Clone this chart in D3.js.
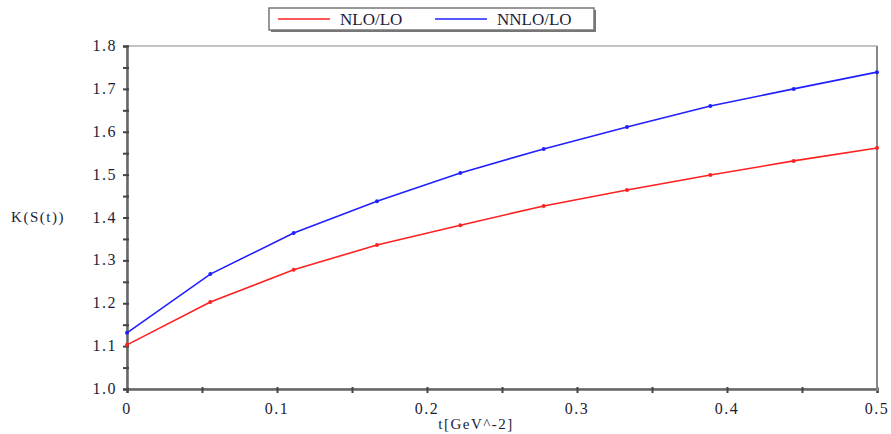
<!DOCTYPE html>
<html>
<head>
<meta charset="utf-8">
<script src="https://cdn.jsdelivr.net/npm/d3@7"></script>
<style>
  body { margin: 0; background: #fff; }
  svg text { font-family: "Liberation Serif", "DejaVu Serif", serif; fill: #1c1c3a; }
</style>
</head>
<body>
<svg id="chart" width="891" height="434"></svg>
<script>
const tValues = [0, 1/18, 2/18, 3/18, 4/18, 5/18, 6/18, 7/18, 8/18, 9/18]
const nloValues = [1.103, 1.203, 1.278, 1.336, 1.382, 1.427, 1.464, 1.499, 1.532, 1.562]
const nnloValues = [1.131, 1.268, 1.364, 1.438, 1.504, 1.560, 1.611, 1.660, 1.700, 1.739]
const seriesNames = ['NLO/LO', 'NNLO/LO']
const seriesColors = ['#ff2020', '#2020ff']
const xTicks = [0, 0.1, 0.2, 0.3, 0.4, 0.5]
const yTicks = [1.0, 1.1, 1.2, 1.3, 1.4, 1.5, 1.6, 1.7, 1.8]

const serif = '"Liberation Serif", "DejaVu Serif", serif'
const svg = d3.select('#chart')
const margin = {left: 127, right: 14, top: 46, bottom: 45}
const width = +svg.attr('width')
const height = +svg.attr('height')

const x = d3.scaleLinear().domain([0, 0.5]).range([margin.left, width - margin.right])
const y = d3.scaleLinear().domain([1.0, 1.8]).range([height - margin.bottom, margin.top])

// frame
svg.append('rect')
    .attr('x', x(0)).attr('y', y(1.8))
    .attr('width', x(0.5) - x(0)).attr('height', y(1.0) - y(1.8))
    .attr('fill', 'none').attr('stroke', '#888').attr('stroke-width', 1)

// minor ticks
const xAxis = d3.axisBottom(x).tickValues(d3.range(0, 0.501, 0.05)).tickSize(4).tickFormat('')
const yAxis = d3.axisLeft(y).tickValues(d3.range(1.0, 1.801, 0.05)).tickSize(4).tickFormat('')

const gx = svg.append('g').attr('transform', `translate(0,${y(1.0)})`).call(xAxis)
const gy = svg.append('g').attr('transform', `translate(${x(0)},0)`).call(yAxis)
gx.selectAll('line').attr('stroke', '#444').attr('stroke-width', 2).attr('y1', -2).attr('y2', 4)
gy.selectAll('line').attr('stroke', '#444').attr('stroke-width', 2).attr('x1', 2).attr('x2', -4)
gx.select('.domain').attr('stroke', '#666').attr('stroke-width', 2.5)
gy.select('.domain').attr('stroke', '#666').attr('stroke-width', 2.5)
// right edge
svg.append('line')
    .attr('x1', x(0.5)).attr('x2', x(0.5)).attr('y1', y(1.8)).attr('y2', y(1.0) + 2)
    .attr('stroke', '#888').attr('stroke-width', 2)

// tick labels
svg.selectAll('.xlab').data(xTicks).enter().append('text')
    .attr('font-family', serif)
    .attr('x', d => x(d)).attr('y', y(1.0) + 25)
    .attr('text-anchor', 'middle').attr('font-size', 16).attr('letter-spacing', 1.5)
    .text(d => d === 0 ? '0' : d3.format('.1f')(d))

svg.selectAll('.ylab').data(yTicks).enter().append('text')
    .attr('font-family', serif)
    .attr('x', x(0) - 10).attr('y', d => y(d) + 5)
    .attr('text-anchor', 'end').attr('font-size', 16).attr('letter-spacing', 1.5)
    .text(d => d3.format('.1f')(d))

svg.append('text').attr('font-family', serif).attr('x', 476).attr('y', 429).attr('text-anchor', 'middle')
    .attr('font-size', 15).attr('letter-spacing', 1.5).text('t[GeV^-2]')
svg.append('text').attr('font-family', serif).attr('x', 38).attr('y', 222).attr('text-anchor', 'middle')
    .attr('font-size', 15).attr('letter-spacing', 1.5).text('K(S(t))')

// series
const series = [nloValues, nnloValues].map((vals, i) => ({
    name: seriesNames[i], color: seriesColors[i],
    points: vals.map((v, j) => ({t: tValues[j], v: v}))
}))

const line = d3.line().x(d => x(d.t)).y(d => y(d.v))

const gs = svg.selectAll('.series').data(series).enter().append('g')
gs.append('path')
    .attr('d', d => line(d.points))
    .attr('fill', 'none').attr('stroke', d => d.color).attr('stroke-width', 1.6)
gs.selectAll('circle').data(d => d.points.map(p => ({...p, color: d.color}))).enter().append('circle')
    .attr('cx', d => x(d.t)).attr('cy', d => y(d.v)).attr('r', 2)
    .attr('fill', d => d.color)

// legend
const lg = svg.append('g')
lg.append('rect').attr('x', 271).attr('y', 10).attr('width', 325).attr('height', 22)
    .attr('fill', '#777')
lg.append('rect').attr('x', 269).attr('y', 8).attr('width', 325).attr('height', 22)
    .attr('fill', '#fff').attr('stroke', '#777').attr('stroke-width', 1.5)
const items = lg.selectAll('.item').data(series).enter().append('g')
    .attr('transform', (d, i) => `translate(${278 + i * 157},0)`)
items.append('line').attr('x1', 0).attr('x2', 52).attr('y1', 19).attr('y2', 19)
    .attr('stroke', d => d.color).attr('stroke-width', 1.6)
items.append('text').attr('font-family', serif).attr('x', 62).attr('y', 25).attr('font-size', 17)
    .text(d => d.name)
</script>
</body>
</html>
